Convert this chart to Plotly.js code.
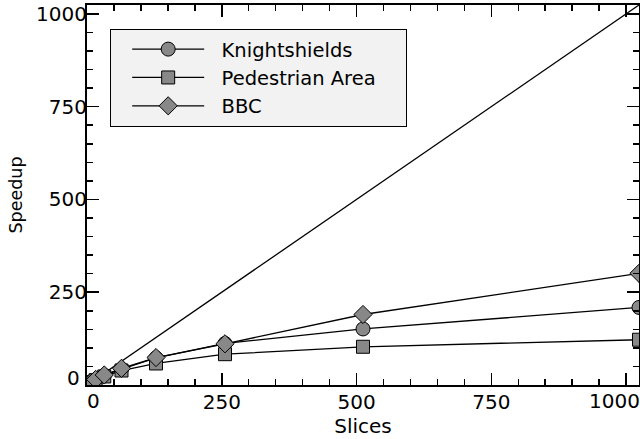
<!DOCTYPE html>
<html>
<head>
<meta charset="utf-8">
<script src="https://cdn.plot.ly/plotly-3.0.1.min.js"></script>
<style>html,body{margin:0;padding:0;background:#fff;}#chart{width:640px;height:439px;}</style>
</head>
<body>
<div id="chart"></div>
<script>
const slices = [1, 2, 4, 8, 16, 32, 64, 128, 256, 512, 1024];
const knightshields = [1, 2, 4, 7.5, 14, 26, 43, 73, 112, 151, 209];
const pedestrian = [1, 2, 3.8, 7, 13, 23, 39, 58, 83, 103, 122];
const bbc = [1, 2, 4, 7.8, 15, 27, 45, 74, 111, 190, 301];
const idealX = [0, 1024];
const idealY = [0, 1024];
const seriesNames = ['Knightshields', 'Pedestrian Area', 'BBC'];
const xTickVals = [0, 250, 500, 750, 1000];
const xTickText = ['0', '250', '500', '750', '1000'];
const yTickVals = [0, 250, 500, 750, 1000];
const yTickText = ['0', '250', '500', '750', '1000'];

const FONT = 'DejaVu Sans, sans-serif';
const TICKSIZE = 20;
const fill = '#888888';
const NB = '\u00a0';
function series(y, name, symbol, size, lead, trail) {
  return {
    x: slices, y: y, name: NB.repeat(lead) + name + NB.repeat(trail), type: 'scatter', mode: 'lines+markers',
    line: {color: '#000', width: 1.3},
    marker: {symbol: symbol, size: size, color: fill, line: {color: '#000', width: 1}}
  };
}
const traces = [
  {x: idealX, y: idealY, type: 'scatter', mode: 'lines', line: {color: '#000', width: 1.3}, showlegend: false, hoverinfo: 'skip'},
  series(knightshields, seriesNames[0], 'circle', 14, 2, 0),
  series(pedestrian, seriesNames[1], 'square', 13, 2, 4),
  series(bbc, seriesNames[2], 'diamond', 14, 2, 0)
];
// edge tick labels that the reference nudges inward
const xShown = xTickText.map((t, i) => (i === 0 || i === xTickText.length - 1) ? '' : t);
const yShown = yTickText.map((t, i) => i === 0 ? '' : t);
const annFont = {family: FONT, size: TICKSIZE, color: '#000'};
const annotations = [
  {text: xTickText[0], x: xTickVals[0], xref: 'x', y: 0, yref: 'paper', xanchor: 'center', yanchor: 'middle', xshift: 6, yshift: -16, showarrow: false, font: annFont, borderpad: 0},
  {text: xTickText[xTickText.length - 1], x: xTickVals[xTickVals.length - 1], xref: 'x', y: 0, yref: 'paper', xanchor: 'center', yanchor: 'middle', xshift: -12, yshift: -16, showarrow: false, font: annFont, borderpad: 0},
  {text: yTickText[0], x: 0, xref: 'paper', y: yTickVals[0], yref: 'y', xanchor: 'right', yanchor: 'middle', xshift: -6, yshift: 7, showarrow: false, font: annFont, borderpad: 0}
];
const axisCommon = {
  showgrid: false, zeroline: false, showline: true, linecolor: '#000', linewidth: 2,
  mirror: 'ticks', ticks: 'inside', ticklen: 12, tickwidth: 1.5, tickcolor: '#000',
  tickfont: {family: FONT, size: TICKSIZE, color: '#000'},
  minor: {ticks: 'inside', ticklen: 6, tickwidth: 1.5, tickcolor: '#000', dtick: 50, showgrid: false}
};
const layout = {
  width: 640, height: 439,
  margin: {l: 87, r: 1, t: 5, b: 54},
  paper_bgcolor: '#fff', plot_bgcolor: '#fff',
  font: {family: FONT, size: 20, color: '#000'},
  showlegend: true,
  annotations: annotations,
  xaxis: Object.assign({}, axisCommon, {
    range: [0, 1024], tickmode: 'array', tickvals: xTickVals, ticktext: xShown,
    ticklabelstandoff: -2,
    title: {text: 'Slices', font: {family: FONT, size: 20, color: '#000'}, standoff: 6}
  }),
  yaxis: Object.assign({}, axisCommon, {
    range: [0, 1024], tickmode: 'array', tickvals: yTickVals, ticktext: yShown,
    ticklabelstandoff: -6,
    title: {text: 'Speedup', font: {family: FONT, size: 17.5, color: '#000'}, standoff: 9}
  }),
  legend: {
    x: 0.042, y: 0.937, xanchor: 'left', yanchor: 'top',
    bgcolor: '#f2f2f2', bordercolor: '#000', borderwidth: 1,
    font: {family: FONT, size: 19.5, color: '#000'},
    itemwidth: 72, indentation: 16, tracegroupgap: 0
  }
};
Plotly.newPlot('chart', traces, layout, {staticPlot: true, displayModeBar: false});
</script>
</body>
</html>
